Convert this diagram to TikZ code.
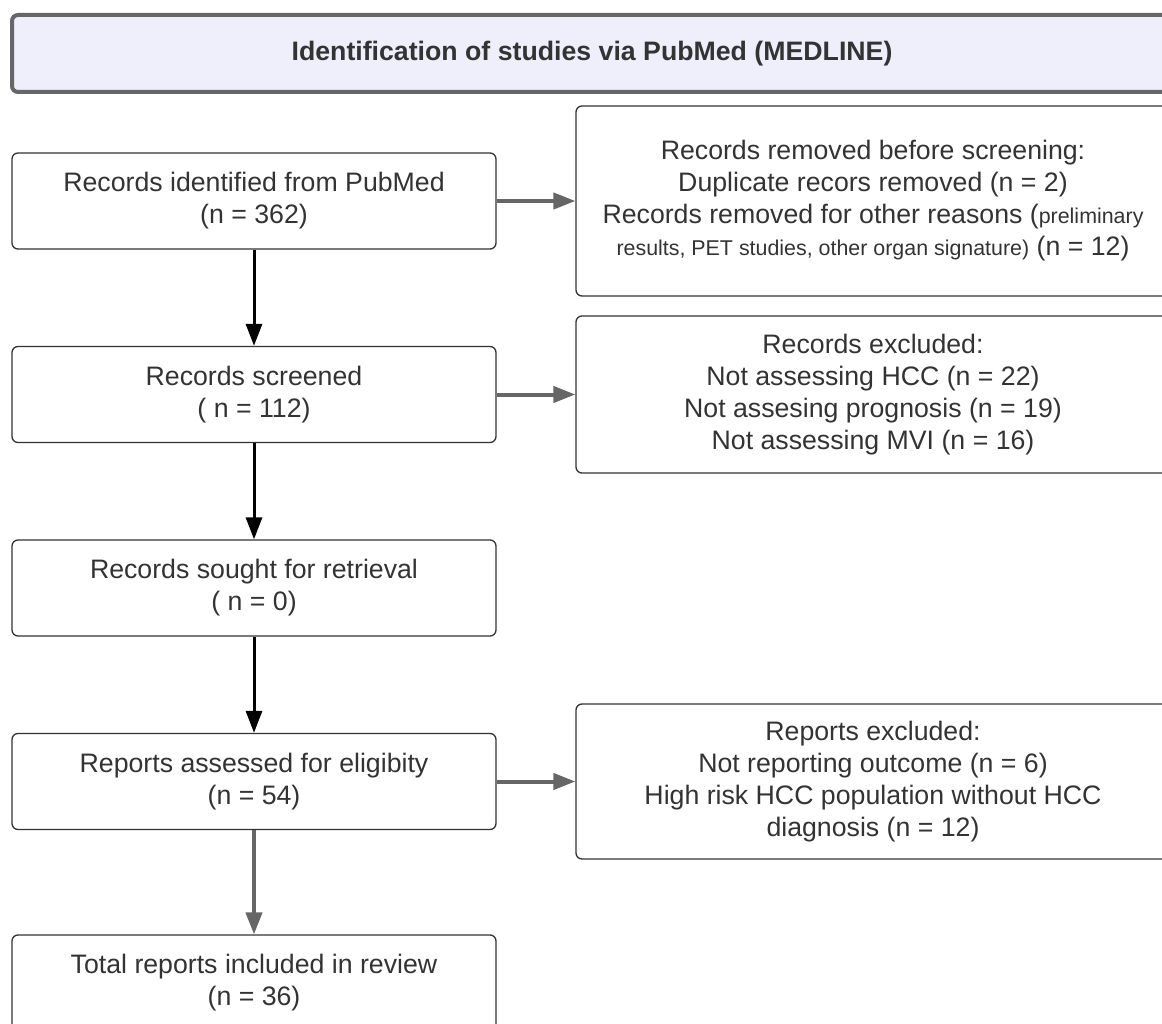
\documentclass[tikz,border=0pt]{standalone}
\usepackage{fontspec}
\setmainfont{Liberation Sans}
\usetikzlibrary{arrows.meta,positioning}
\definecolor{linegray}{HTML}{666666}
\definecolor{textgray}{HTML}{333333}
\definecolor{titlefill}{HTML}{EFEFFC}
\newcommand{\smallpart}[1]{{\fontsize{21.4}{32}\selectfont #1}}

\begin{document}
\begin{tikzpicture}[x=1pt, y=1pt, >={Triangle[length=22pt,width=16pt]}, node distance=193.5pt]
\tikzstyle{every node}=[text=textgray, font=\fontsize{26.7}{32}\selectfont]
\tikzstyle{box}=[draw=textgray, line width=1.3pt, rounded corners=6pt, fill=white, align=center, minimum width=484pt, minimum height=96pt]
\tikzstyle{side}=[box, minimum width=594pt]
\tikzstyle{flow}=[->, black, line width=3pt]
\tikzstyle{side flow}=[->, linegray, line width=4pt]
\useasboundingbox (0,0) rectangle (1162,-1024);
\clip (0,0) rectangle (1162,-1024);
\node[draw=linegray, line width=4pt, fill=titlefill, rounded corners=6pt, minimum width=1160pt, minimum height=77pt, font=\bfseries\fontsize{26.7}{32}\selectfont] (title) at (592,-53.5) {Identification of studies via PubMed (MEDLINE)};
\node[box]    (ident)  at (254,-201)          {Records identified from PubMed\\(n = 362)};
\node[box]    (screen) [below of=ident]       {Records screened\\( n = 112)};
\node[box]    (sought) [below of=screen]      {Records sought for retrieval\\( n = 0)};
\node[box]    (assess) [below of=sought]      {Reports assessed for eligibity\\(n = 54)};
\node[box]    (incl)   [node distance=201.5pt, below of=assess] {Total reports included in review\\(n = 36)};
\node[side, minimum height=190pt] (removed)  [node distance=619pt, right of=ident]
  {Records removed before screening:\\Duplicate recors removed (n = 2)\\Records removed for other reasons (\smallpart{preliminary}\\\smallpart{results, PET studies, other organ signature)} (n = 12)};
\node[side, minimum height=157pt] (excluded) [node distance=619pt, right of=screen]
  {Records excluded:\\Not assessing HCC (n = 22)\\Not assesing prognosis (n = 19)\\Not assessing MVI (n = 16)};
\node[side, minimum height=155pt] (repexcl)  [node distance=619pt, right of=assess]
  {Reports excluded:\\Not reporting outcome (n = 6)\\High risk HCC population without HCC\\diagnosis (n = 12)};
\draw[flow] (ident) -- (screen);
\draw[flow] (screen) -- (sought);
\draw[flow] (sought) -- (assess);
\draw[side flow] (assess) -- (incl);
\draw[side flow] (ident) -- (removed);
\draw[side flow] (screen) -- (excluded);
\draw[side flow] (assess) -- (repexcl);
\end{tikzpicture}
\end{document}
